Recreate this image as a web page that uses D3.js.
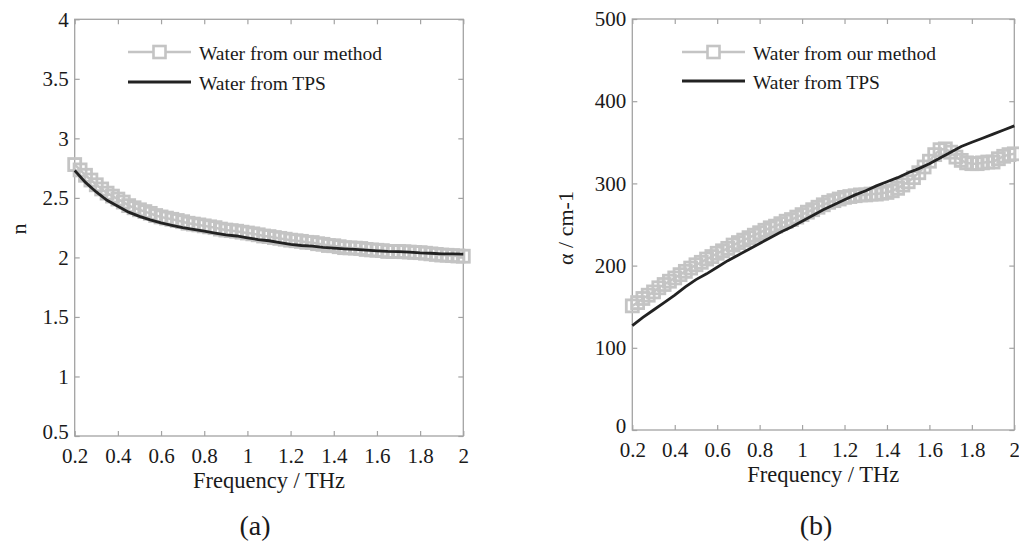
<!DOCTYPE html>
<html>
<head>
<meta charset="utf-8">
<script src="https://cdn.jsdelivr.net/npm/d3@7"></script>
<style>
  body { margin: 0; background: #fff; }
  svg text { font-family: "Liberation Serif", "Times New Roman", Times, "DejaVu Serif", serif !important; fill: #1a1a1a; }
</style>
</head>
<body>
<script>
'use strict';

// frequency grids (THz)
let freqFine = [0.2, 0.225, 0.25, 0.275, 0.3, 0.325, 0.35, 0.375, 0.4, 0.425, 0.45, 0.475,
  0.5, 0.525, 0.55, 0.575, 0.6, 0.625, 0.65, 0.675, 0.7, 0.725, 0.75, 0.775,
  0.8, 0.825, 0.85, 0.875, 0.9, 0.925, 0.95, 0.975, 1.0, 1.025, 1.05, 1.075,
  1.1, 1.125, 1.15, 1.175, 1.2, 1.225, 1.25, 1.275, 1.3, 1.325, 1.35, 1.375,
  1.4, 1.425, 1.45, 1.475, 1.5, 1.525, 1.55, 1.575, 1.6, 1.625, 1.65, 1.675,
  1.7, 1.725, 1.75, 1.775, 1.8, 1.825, 1.85, 1.875, 1.9, 1.925, 1.95, 1.975, 2.0];
let freqCoarse = [0.2, 0.25, 0.3, 0.35, 0.4, 0.45, 0.5, 0.55, 0.6, 0.65, 0.7, 0.75,
  0.8, 0.85, 0.9, 0.95, 1.0, 1.05, 1.1, 1.15, 1.2, 1.25, 1.3, 1.35, 1.4, 1.45,
  1.5, 1.55, 1.6, 1.65, 1.7, 1.75, 1.8, 1.85, 1.9, 1.95, 2.0];

// (a) refractive index
let nOurMethod = [2.78, 2.735, 2.69, 2.65, 2.61, 2.575, 2.54, 2.515, 2.49, 2.465, 2.435, 2.417,
  2.40, 2.385, 2.37, 2.352, 2.34, 2.33, 2.32, 2.31, 2.30, 2.287, 2.28, 2.273,
  2.265, 2.257, 2.25, 2.238, 2.23, 2.225, 2.22, 2.212, 2.205, 2.198, 2.19, 2.18,
  2.175, 2.167, 2.16, 2.153, 2.145, 2.14, 2.135, 2.127, 2.125, 2.115, 2.11, 2.10,
  2.098, 2.09, 2.082, 2.08, 2.078, 2.075, 2.067, 2.063, 2.06, 2.057, 2.05, 2.05,
  2.05, 2.048, 2.045, 2.042, 2.04, 2.035, 2.03, 2.025, 2.02, 2.018, 2.015, 2.012, 2.01];
let nTPS = [2.73, 2.63, 2.55, 2.48, 2.43, 2.38, 2.345, 2.315, 2.29, 2.27, 2.25, 2.235,
  2.22, 2.205, 2.19, 2.18, 2.165, 2.15, 2.14, 2.125, 2.11, 2.10, 2.095, 2.085, 2.078, 2.072,
  2.068, 2.062, 2.055, 2.05, 2.048, 2.045, 2.038, 2.035, 2.03, 2.03, 2.028];

// (b) absorption coefficient
let alphaOurMethod = [151, 155, 160, 164, 168, 173, 177, 181, 185, 189, 193, 197,
  201, 204, 208, 211, 215, 218, 221, 225, 228, 231, 234, 237,
  240, 243, 246, 248, 251, 254, 256, 259, 262, 265, 268, 271,
  274, 277, 279, 281, 283, 284, 285, 286, 286, 287, 287, 288,
  289, 291, 294, 298, 302, 307, 313, 320, 327, 335, 341, 342,
  338, 332, 328, 325, 324, 324, 325, 326, 326, 330, 333, 335, 336];
let alphaTPS = [127, 137, 146, 155, 164, 174, 183, 190, 198, 206, 213, 220,
  227, 234, 241, 247, 254, 261, 268, 274, 280, 286, 291, 297, 302, 307,
  313, 318, 324, 331, 338, 345, 350, 355, 360, 365, 370];

let xTicks = [0.2, 0.4, 0.6, 0.8, 1, 1.2, 1.4, 1.6, 1.8, 2];
let nTicks = [0.5, 1, 1.5, 2, 2.5, 3, 3.5, 4];
let alphaTicks = [0, 100, 200, 300, 400, 500];
let legendNames = ["Water from our method", "Water from TPS"];

let grayColor = "#c4c4c4";
let darkColor = "#222";
let frameColor = "#a3a3a3";
let serif = "'Liberation Serif', 'Times New Roman', Times, 'DejaVu Serif', serif";

let svg = d3.select("body").append("svg")
  .attr("width", 1019)
  .attr("height", 550)
  .attr("font-family", serif);

drawPanel({
  left: 74.7, right: 463.3, top: 19.3, bottom: 436,
  yDomain: [0.5, 4], yTicks: nTicks,
  ours: nOurMethod, tps: nTPS,
  yLabel: "n", yLabelX: 19, yLabelY: 229,
  legendX: 128, legendY: [52, 82],
  tag: "(a)", tagX: 255
});

drawPanel({
  left: 632.3, right: 1014.3, top: 19, bottom: 430,
  yDomain: [0, 500], yTicks: alphaTicks,
  ours: alphaOurMethod, tps: alphaTPS,
  yLabel: "\u03b1  / cm-1", yLabelX: 566, yLabelY: 228,
  legendX: 682, legendY: [52, 81],
  tag: "(b)", tagX: 816
});

function drawPanel(p) {
  let g = svg.append("g");

  let x = d3.scaleLinear().domain([0.2, 2]).range([p.left, p.right]);
  let y = d3.scaleLinear().domain(p.yDomain).range([p.bottom, p.top]);

  // box
  g.append("rect")
    .attr("x", p.left).attr("y", p.top)
    .attr("width", p.right - p.left).attr("height", p.bottom - p.top)
    .attr("fill", "none")
    .attr("stroke", frameColor)
    .attr("stroke-width", 1.3);

  // inward ticks on all four sides
  let xb = g.append("g")
    .attr("transform", "translate(0," + p.bottom + ")")
    .call(d3.axisBottom(x).tickValues(xTicks).tickSize(-5).tickSizeOuter(0).tickPadding(12)
      .tickFormat(d => d));
  let xt = g.append("g")
    .attr("transform", "translate(0," + p.top + ")")
    .call(d3.axisTop(x).tickValues(xTicks).tickSize(-5).tickSizeOuter(0).tickFormat(""));
  let yl = g.append("g")
    .attr("transform", "translate(" + p.left + ",0)")
    .call(d3.axisLeft(y).tickValues(p.yTicks).tickSize(-5).tickSizeOuter(0).tickPadding(6)
      .tickFormat(d => d));
  let yr = g.append("g")
    .attr("transform", "translate(" + p.right + ",0)")
    .call(d3.axisRight(y).tickValues(p.yTicks).tickSize(-5).tickSizeOuter(0).tickFormat(""));

  [xb, xt, yl, yr].forEach(a => {
    a.attr("font-family", serif);
    a.select(".domain").remove();
    a.selectAll(".tick line").attr("stroke", frameColor).attr("stroke-width", 1.2);
    a.selectAll("text").attr("font-size", "21px").attr("fill", "#1a1a1a");
  });
  // lowest y label sits just above the corner, as in the original
  yl.selectAll(".tick text").filter(d => d === p.yDomain[0]).attr("dy", "0.1em");

  // our method: light gray line with open squares
  let lineOurs = d3.line()
    .x((d, i) => x(freqFine[i]))
    .y(d => y(d));
  g.append("path")
    .datum(p.ours)
    .attr("d", lineOurs)
    .attr("fill", "none")
    .attr("stroke", grayColor)
    .attr("stroke-width", 2.5);
  g.selectAll(".sq")
    .data(p.ours)
    .enter()
    .append("rect")
    .attr("x", (d, i) => x(freqFine[i]) - 6)
    .attr("y", d => y(d) - 6)
    .attr("width", 12)
    .attr("height", 12)
    .attr("fill", "none")
    .attr("stroke", grayColor)
    .attr("stroke-width", 2.8);

  // TPS: dark line
  let lineTps = d3.line()
    .x((d, i) => x(freqCoarse[i]))
    .y(d => y(d));
  g.append("path")
    .datum(p.tps)
    .attr("d", lineTps)
    .attr("fill", "none")
    .attr("stroke", darkColor)
    .attr("stroke-width", 2.8);

  // legend
  let lg = g.append("g");
  lg.append("line")
    .attr("x1", p.legendX).attr("x2", p.legendX + 63)
    .attr("y1", p.legendY[0]).attr("y2", p.legendY[0])
    .attr("stroke", grayColor).attr("stroke-width", 2.5);
  lg.append("rect")
    .attr("x", p.legendX + 31.5 - 6).attr("y", p.legendY[0] - 6)
    .attr("width", 12).attr("height", 12)
    .attr("fill", "#fff")
    .attr("stroke", grayColor).attr("stroke-width", 2.6);
  lg.append("line")
    .attr("x1", p.legendX).attr("x2", p.legendX + 63)
    .attr("y1", p.legendY[1]).attr("y2", p.legendY[1])
    .attr("stroke", darkColor).attr("stroke-width", 2.8);
  lg.selectAll(".lt")
    .data(legendNames)
    .enter()
    .append("text")
    .attr("x", p.legendX + 71)
    .attr("y", (d, i) => p.legendY[i] + 8)
    .attr("font-size", "19.5px")
    .text(d => d);

  // axis labels
  g.append("text")
    .attr("x", (p.left + p.right) / 2)
    .attr("y", p.bottom + 52)
    .attr("text-anchor", "middle")
    .attr("font-size", "22.5px")
    .text("Frequency / THz");

  g.append("text")
    .attr("transform", "translate(" + p.yLabelX + "," + p.yLabelY + ")rotate(-90)")
    .attr("text-anchor", "middle")
    .attr("dy", "0.32em")
    .attr("font-size", "22px")
    .text(p.yLabel);

  g.append("text")
    .attr("x", p.tagX)
    .attr("y", 535)
    .attr("text-anchor", "middle")
    .attr("font-size", "28px")
    .text(p.tag);
}
</script>
</body>
</html>
